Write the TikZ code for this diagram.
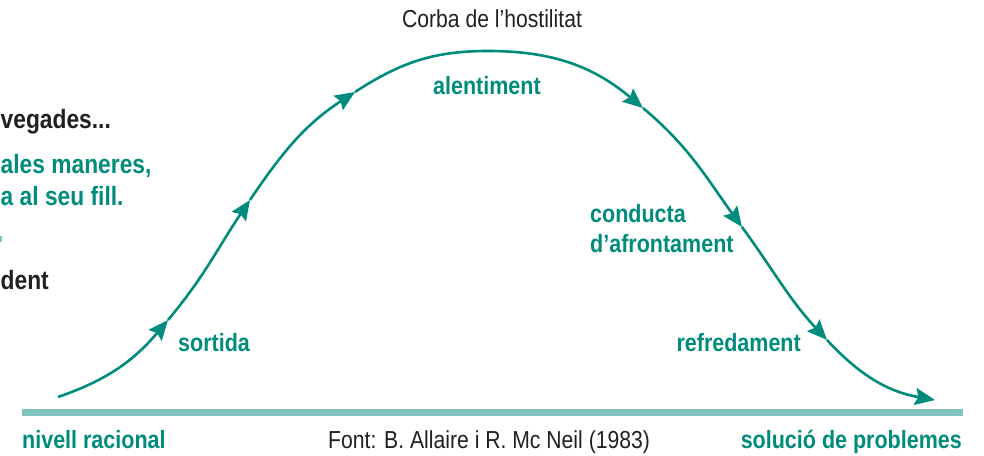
\documentclass[tikz,border=0pt]{standalone}
\usepackage{fontspec}
\setmainfont{Liberation Sans}[FakeStretch=0.86]
\usetikzlibrary{arrows.meta}
\definecolor{tealA}{RGB}{0,140,125}
\definecolor{tealbar}{RGB}{128,196,190}
\definecolor{darktxt}{RGB}{35,31,32}
\tikzset{
  curve/.style={draw=tealA, line width=2.6pt},
  arrseg/.style={curve, -{Stealth[length=20pt,width=17pt,inset=3pt]}},
  lab/.style={inner sep=0pt, text=tealA, font=\fontsize{25}{30}\selectfont\bfseries},
  blk/.style={inner sep=0pt, text=darktxt, font=\fontsize{24.6}{30}\selectfont},
  leftlab/.style={inner sep=0pt, font=\fontsize{26.5}{32}\selectfont\bfseries}
}
\begin{document}
\begin{tikzpicture}[x=1pt,y=1pt]
\useasboundingbox (0,0) rectangle (984,455);
% base bar
\fill[tealbar] (22,39) rectangle (963,46);
% curve points
\coordinate (S) at (58,58);
\coordinate (A1) at (168,135);
\coordinate (A2) at (250,255);
\coordinate (A3) at (355,363);
\coordinate (P) at (488,404);
\coordinate (A4) at (643,347);
\coordinate (A5) at (742,228);
\coordinate (A6) at (827,115);
\coordinate (E) at (935,55);
\draw[arrseg] (S) to[out=19,in=230] (A1);
\draw[arrseg] (A1) to[out=50,in=236] (A2);
\draw[arrseg] (A2) to[out=56,in=213] (A3);
\draw[curve] (A3) to[out=33,in=180] (P);
\draw[arrseg] (P) to[out=0,in=140] (A4);
\draw[arrseg] (A4) to[out=-40,in=126] (A5);
\draw[arrseg] (A5) to[out=-54,in=133] (A6);
\draw[arrseg] (A6) to[out=-47,in=170] (E);
% labels
\node[blk, anchor=base] (title) at (492,427) {Corba de l’hostilitat};
\node[lab, anchor=base west] (alent) at (433,360) {alentiment};
\node[lab, anchor=base west] (sort) at (178,103) {sortida};
\node[lab, anchor=base west] (cond1) at (590,232) {conducta};
\node[lab, anchor=base west] (cond2) at (590,202) {d’afrontament};
\node[lab, anchor=base east] (refr) at (801,103) {refredament};
\node[lab, anchor=base west] (niv) at (22,7) {nivell racional};
\node[blk, anchor=base west] (font) at (328,7) {Font: B. Allaire i R. Mc Neil (1983)};
\node[lab, anchor=base east] (sol) at (962,7) {solució de problemes};
% left fragments
\node[leftlab, text=darktxt, anchor=base west] (l1) at (0.5,326) {vegades...};
\node[leftlab, text=tealA, anchor=base west] (l2) at (0.5,281) {ales maneres,};
\node[leftlab, text=tealA, anchor=base west] (l3) at (0.5,249) {a al seu fill.};
\node[leftlab, text=darktxt, anchor=base west] (l4) at (0.5,165) {dent};
\fill[tealbar] (0,213) rectangle (1.5,219);
\end{tikzpicture}
\end{document}
